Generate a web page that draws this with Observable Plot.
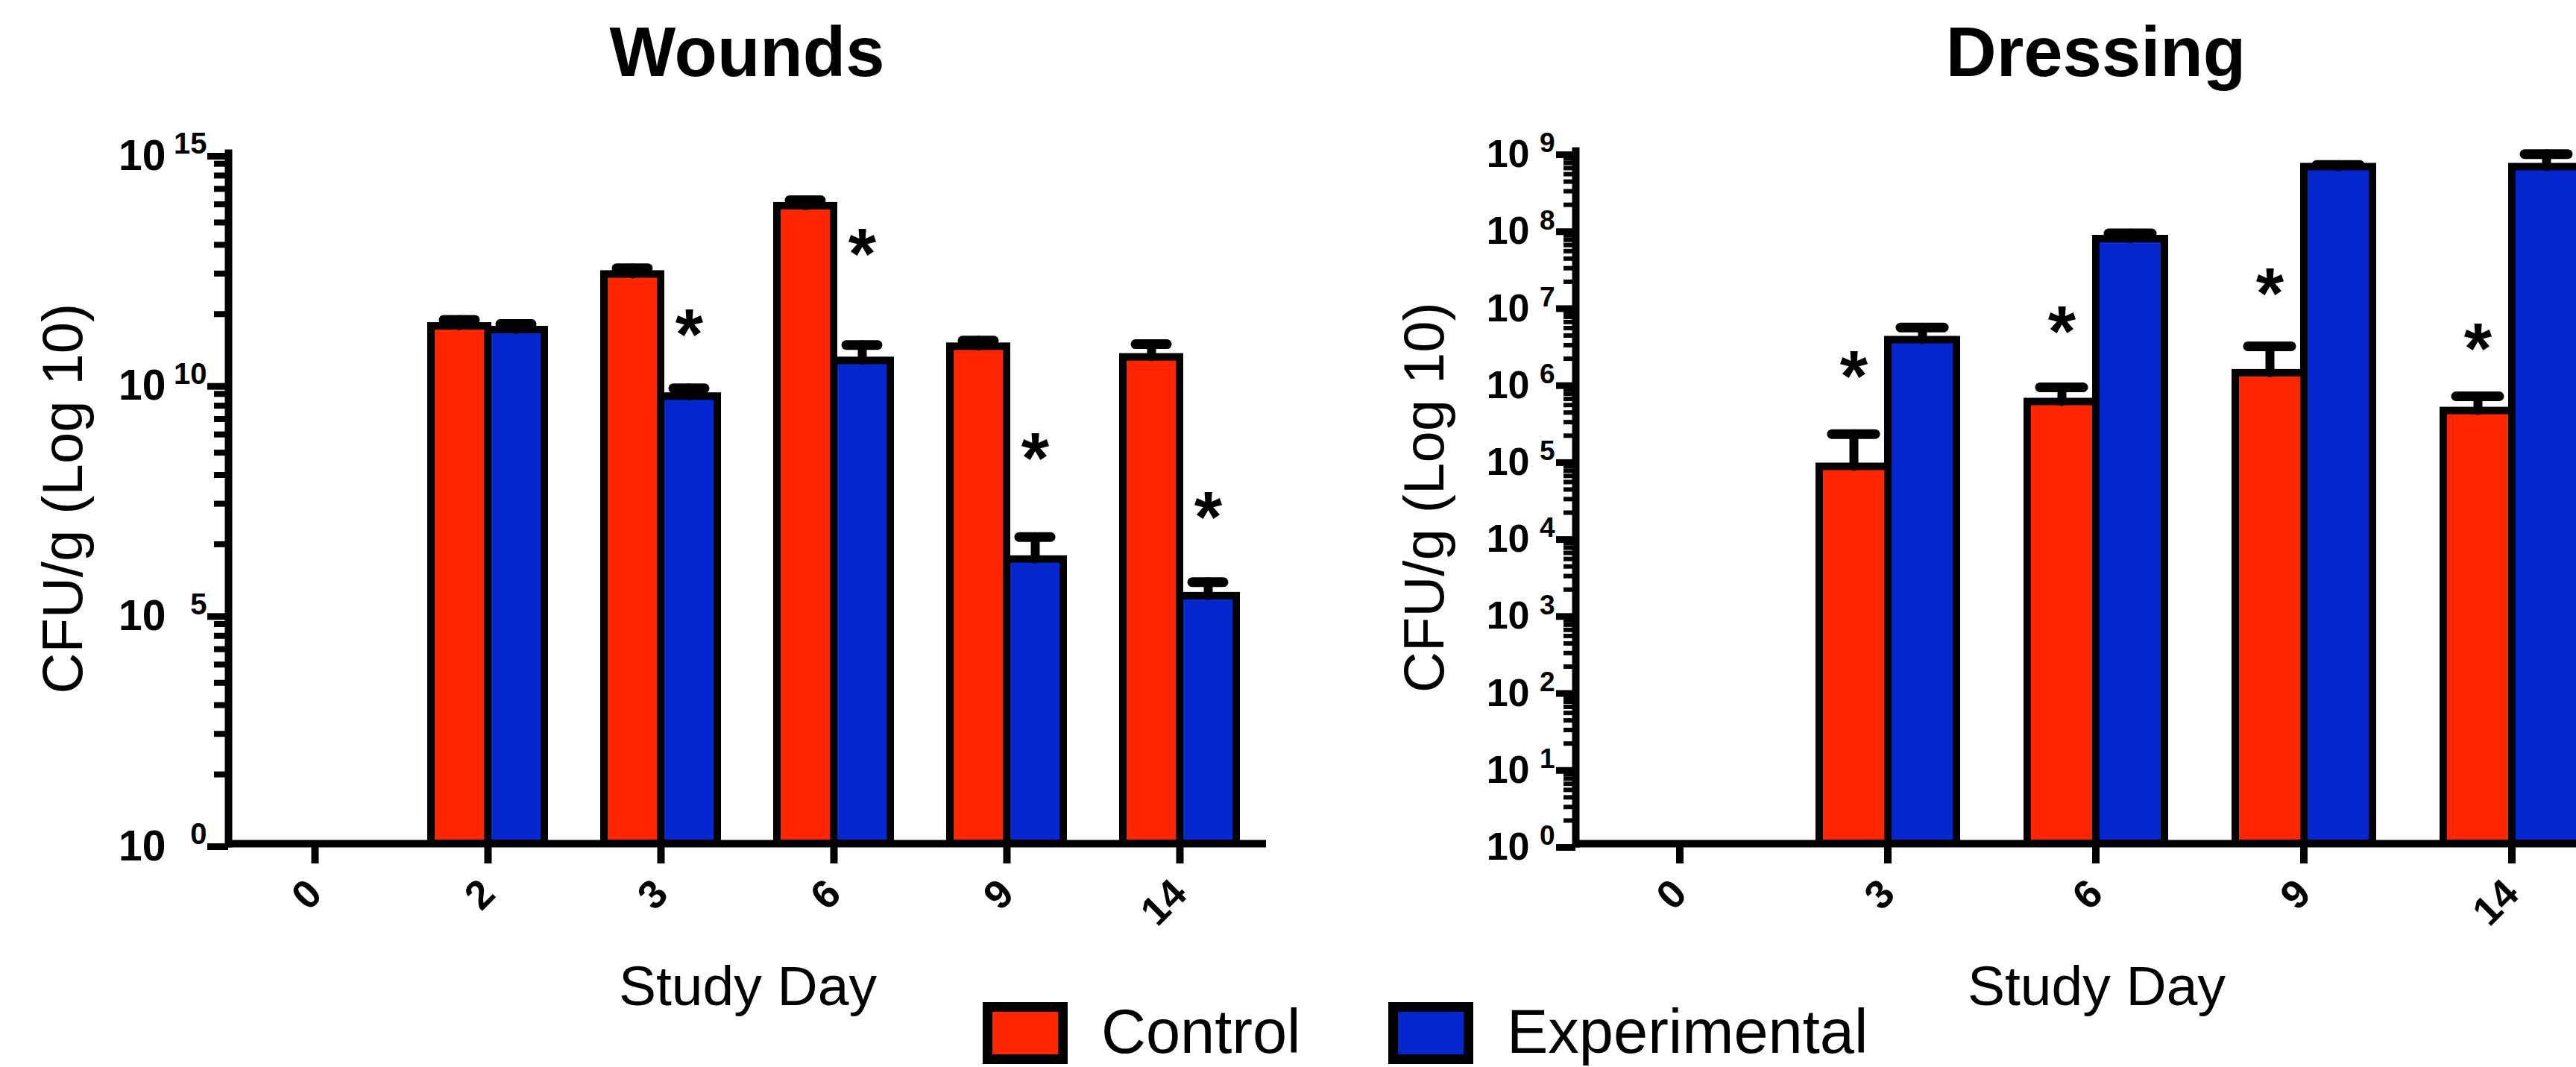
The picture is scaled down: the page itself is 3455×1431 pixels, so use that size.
<!DOCTYPE html>
<html>
<head>
<meta charset="utf-8">
<script src="https://cdn.jsdelivr.net/npm/d3@7"></script>
<script src="https://cdn.jsdelivr.net/npm/@observablehq/plot@0.6"></script>
<style>
  html, body { margin: 0; padding: 0; background: #fff; overflow: hidden; }
  #root { position: relative; width: 3455px; height: 1431px; overflow: hidden;
          font-family: 'Liberation Sans', Arial, Helvetica, sans-serif; color: #000; background: #fff; }
  .panel { position: absolute; top: 0; height: 1431px; }
  .overlay { position: absolute; top: 0; pointer-events: none; z-index: 5; }
  .txt { position: absolute; line-height: 1; white-space: nowrap; }
  .swatch { position: absolute; box-sizing: border-box; border: 13px solid #000; }
</style>
</head>
<body>
<div id="root"></div>
<script>
// ---------------- data ----------------
const seriesNames = ["Control", "Experimental"];
const seriesColors = ["#ff2600", "#0327cc"];

const titles = ["Wounds", "Dressing"];
const yLabel = "CFU/g (Log 10)";
const xLabel = "Study Day";

// Wounds (CFU/g): mean and mean + error
const woundDays = ["0", "2", "3", "6", "9", "14"];
const woundControl      = [null, 1.74e11, 2.34e12, 7.1e13, 6.3e10, 3.7e10];
const woundControlUpper = [null, 2.4e11, 3.16e12, 9.5e13, 8.5e10, 7.1e10];
const woundExp          = [null, 1.45e11, 5.2e9, 3.1e10, 1.5e6, 2.4e5];
const woundExpUpper     = [null, 1.95e11, 7.8e9, 6.8e10, 4.6e6, 4.8e5];
const woundStarDays = ["3", "6", "9", "14"];
const woundStarSeries = "Experimental";
const woundStarY = [2.5e11, 1.4e13, 5.1e8, 2.6e7];
const woundMajorTicks = [1, 1e5, 1e10, 1e15];

// Dressing (CFU/g)
const dressDays = ["0", "3", "6", "9", "14"];
const dressControl      = [null, 7.9e4, 5.5e5, 1.3e6, 4.2e5];
const dressControlUpper = [null, 2.1e5, 8.5e5, 2.9e6, 6.5e5];
const dressExp          = [null, 3.5e6, 7.2e7, 6.2e8, 6.2e8];
const dressExpUpper     = [null, 5.1e6, 8.5e7, 6.6e8, 9.1e8];
const dressStarDays = ["3", "6", "9", "14"];
const dressStarSeries = "Control";
const dressStarY = [1.86e6, 7.1e6, 2.2e7, 4.3e6];
const dressMajorTicks = [1, 1e1, 1e2, 1e3, 1e4, 1e5, 1e6, 1e7, 1e8, 1e9];

const minorMultipliers = [2, 3, 4, 5, 6, 7, 8, 9];

// ---------------- helpers ----------------
function minorTicks(m) {
  const out = [];
  for (let i = 0; i < m.length - 1; i++) {
    const a = Math.log10(m[i]), b = Math.log10(m[i + 1]);
    for (const k of minorMultipliers) out.push(Math.pow(10, a + (b - a) * Math.log10(k)));
  }
  return out;
}

function buildRows(days, c, cu, e, eu) {
  return days.flatMap((d, i) => [
    {day: d, series: seriesNames[0], value: c[i], upper: cu[i]},
    {day: d, series: seriesNames[1], value: e[i], upper: eu[i]}
  ]);
}

const FONT = "'Liberation Sans', Arial, Helvetica, sans-serif";

function chart(o) {
  const rows = buildRows(o.days, o.c, o.cu, o.e, o.eu);
  const stars = o.starDays.map((d, i) => ({day: d, series: o.starSeries, y: o.starY[i]}));
  return Plot.plot({
    width: o.width, height: 1431,
    marginLeft: o.marginLeft, marginRight: o.marginRight, marginTop: o.marginTop, marginBottom: 300,
    style: {fontFamily: FONT, color: "#000", background: "#fff"},
    fx: {domain: o.days, padding: 0, label: null},
    x: {domain: seriesNames, paddingInner: 0, paddingOuter: 0.51, axis: null},
    y: {type: "log", domain: [1, o.majors[o.majors.length - 1]]},
    color: {domain: seriesNames, range: seriesColors},
    marks: [
      Plot.barY(rows, {fx: "day", x: "series", y1: 1, y2: "value", fill: "series", stroke: "#000", strokeWidth: 10}),
      Plot.ruleX(rows, {fx: "day", x: "series", y1: "value", y2: "upper", stroke: "#000", strokeWidth: 12, strokeLinecap: "round"}),
      Plot.tickY(rows, {fx: "day", x: "series", y: "upper", stroke: "#000", strokeWidth: 13, strokeLinecap: "round", insetLeft: 17, insetRight: 17}),
      Plot.ruleY([1], {stroke: "#000", strokeWidth: 10}),
      Plot.frame({anchor: "left", facetAnchor: "left", stroke: "#000", strokeWidth: 10, strokeLinecap: "square"}),
      Plot.text(stars, {fx: "day", x: "series", y: "y", text: () => "*", fontSize: 96, fontWeight: "bold", dy: 22}),
      // major ticks with "10"
      Plot.axisY({ticks: o.majors, tickSize: o.majorTick, strokeWidth: 9, tickPadding: o.tenPad,
                  tickFormat: () => "10", fontSize: o.tenFont, fontWeight: "bold", dy: o.tenDy, label: null}),
      // exponents
      Plot.axisY({ticks: o.majors, tickSize: 0, tickPadding: o.expPad,
                  tickFormat: d => String(Math.round(Math.log10(d))), fontSize: o.expFont, fontWeight: "bold", dy: o.expDy, label: null}),
      Plot.text([yLabel], {frameAnchor: "left", facetAnchor: "left", rotate: -90, textAnchor: "middle", lineAnchor: "middle",
                           dx: o.labelDx, fontSize: 76, text: d => d}),
      Plot.axisFx({anchor: "bottom", tickSize: 27, strokeWidth: 10, tickPadding: 31, tickRotate: -45,
                   fontSize: 54, fontWeight: "bold", label: null})
    ]
  });
}

// minor y ticks: a narrow plot whose frame is exactly the tick strip left of the y axis
function minorAxis(o) {
  return Plot.plot({
    width: o.marginLeft, height: 1431,
    marginLeft: o.marginLeft - o.minorTick, marginRight: 0, marginTop: o.marginTop, marginBottom: 300,
    style: {background: "transparent", color: "#000"},
    y: {type: "log", domain: [1, o.majors[o.majors.length - 1]], axis: null},
    marks: [
      Plot.ruleY(minorTicks(o.majors), {stroke: "#000", strokeWidth: o.minorWidth})
    ]
  });
}

// ---------------- layout ----------------
const root = document.getElementById("root");

function addPanel(left, o) {
  const div = document.createElement("div");
  div.className = "panel";
  div.style.left = left + "px";
  div.style.width = o.width + "px";
  div.appendChild(chart(o));
  root.appendChild(div);
  try {
    const ov = minorAxis(o);
    const wrap = document.createElement("div");
    wrap.className = "overlay";
    wrap.style.left = left + "px";
    wrap.style.width = o.marginLeft + "px";
    wrap.appendChild(ov);
    root.appendChild(wrap);
  } catch (e) { /* keep chart without minor ticks */ }
}

function addText(text, {x, baseline, size, bold = false, anchor = "middle"}) {
  const el = document.createElement("div");
  el.className = "txt";
  el.textContent = text;
  el.style.fontSize = size + "px";
  el.style.fontWeight = bold ? "bold" : "normal";
  el.style.top = (baseline - 0.8465 * size) + "px";
  el.style.left = x + "px";
  if (anchor === "middle") el.style.transform = "translateX(-50%)";
  root.appendChild(el);
}

addPanel(0, {
  days: woundDays, c: woundControl, cu: woundControlUpper, e: woundExp, eu: woundExpUpper,
  starDays: woundStarDays, starSeries: woundStarSeries, starY: woundStarY,
  majors: woundMajorTicks, width: 1740, marginLeft: 306, marginRight: 42, marginTop: 205,
  minorTick: 19, minorWidth: 8, majorTick: 28, tenPad: 56, tenFont: 57, tenDy: 4,
  expPad: 29, expFont: 40, expDy: -12, labelDx: -221
});

addPanel(1760, {
  days: dressDays, c: dressControl, cu: dressControlUpper, e: dressExp, eu: dressExpUpper,
  starDays: dressStarDays, starSeries: dressStarSeries, starY: dressStarY,
  majors: dressMajorTicks, width: 1800, marginLeft: 353, marginRight: 52, marginTop: 202,
  minorTick: 16, minorWidth: 6, majorTick: 26, tenPad: 36, tenFont: 52, tenDy: 5,
  expPad: 28, expFont: 37, expDy: -10, labelDx: -202
});

// titles and x labels
addText(titles[0], {x: 1002, baseline: 103, size: 94, bold: true});
addText(titles[1], {x: 2811, baseline: 103, size: 94, bold: true});
addText(xLabel, {x: 1003, baseline: 1348, size: 75});
addText(xLabel, {x: 2812, baseline: 1348, size: 75});

// legend
const legendSwatchX = [1318, 1862];
const legendTextX = [1477, 2021];
seriesNames.forEach((name, i) => {
  const sw = document.createElement("div");
  sw.className = "swatch";
  sw.style.left = legendSwatchX[i] + "px";
  sw.style.top = "1344px";
  sw.style.width = "114px";
  sw.style.height = "83px";
  sw.style.background = seriesColors[i];
  root.appendChild(sw);
  addText(name, {x: legendTextX[i], baseline: 1412, size: 83, anchor: "start"});
});
</script>
</body>
</html>
